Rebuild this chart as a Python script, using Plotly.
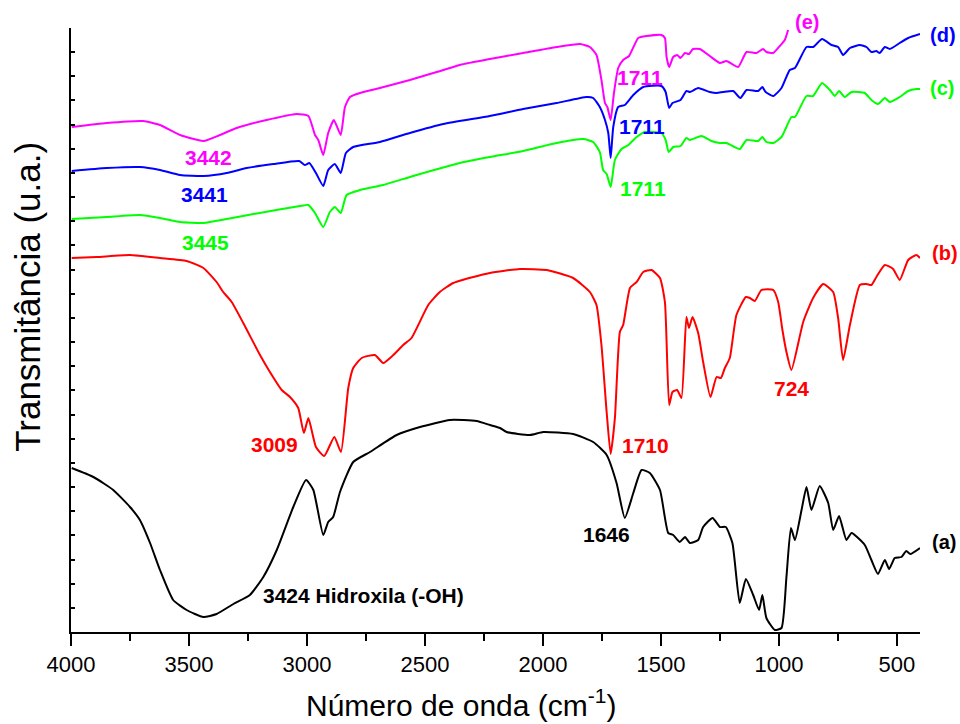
import plotly.graph_objects as go

# ---------------- data (wavenumber cm-1, transmittance a.u.) ----------------
a_wn = [3997,3905,3821,3750,3708,3665,3623,3567,3510,3439,3383,3312,3242,3185,3128,3058,3004,2973,2931,2910,2889,2860,2804,2733,2620,2521,2394,2281,2225,2182,2154,2055,1999,1872,1787,1730,1688,1653,1617,1582,1547,1504,1469,1448,1420,1398,1377,1342,1321,1281,1250,1225,1197,1166,1140,1109,1084,1070,1053,1017,989,968,949,932,904,883,862,827,791,770,745,714,692,636,608,580,551,533,509,481,460,443,402]
a_t  = [164,155,142,125,112,89,62,32,22,15,18,28,37,55,82,125,152,142,97,110,115,140,170,180,197,205,212,211,207,204,200,197,200,198,190,177,149,114,139,162,159,142,99,97,90,95,89,92,105,114,105,105,89,29,53,37,22,37,14,2,4,55,104,92,122,145,122,146,129,102,116,92,99,87,72,58,72,63,74,75,81,78,84]

b_wn = [3997,3891,3750,3623,3510,3439,3383,3355,3319,3270,3199,3157,3107,3072,3037,3013,2994,2962,2927,2884,2856,2825,2804,2768,2712,2677,2634,2592,2557,2486,2437,2380,2295,2225,2098,1984,1872,1801,1773,1752,1730,1713,1695,1674,1660,1631,1603,1575,1540,1504,1483,1465,1451,1431,1413,1392,1381,1366,1342,1321,1290,1264,1246,1229,1208,1180,1140,1123,1102,1074,1024,1003,985,968,947,897,855,812,770,749,728,699,657,629,608,587,551,516,488,452,417,402]
b_t  = [374,375,377,374,371,364,350,340,330,309,277,260,242,235,224,199,214,185,176,195,180,244,264,274,277,269,277,287,294,327,340,349,355,359,363,362,354,340,327,287,220,178,214,300,307,344,350,360,362,354,330,227,240,242,234,315,304,315,299,270,235,255,254,264,274,317,335,334,331,342,342,330,302,280,262,310,334,348,340,314,272,307,347,348,347,355,367,363,352,372,377,374]

c_wn = [3997,3849,3708,3623,3538,3439,3340,3227,3030,2994,2966,2931,2903,2882,2857,2832,2775,2677,2550,2352,2225,2084,1942,1829,1787,1759,1745,1730,1713,1695,1667,1638,1603,1568,1498,1480,1467,1448,1417,1392,1377,1328,1286,1250,1222,1166,1137,1088,1070,1053,1024,989,947,932,883,855,817,784,763,745,721,692,636,608,580,551,530,488,452,417,402]
c_t  = [413,415,417,414,410,409,413,418,426,427,419,405,420,425,419,437,442,447,456,469,475,481,489,493,490,480,462,458,445,472,483,487,495,500,499,492,480,485,486,494,492,496,491,489,489,483,492,491,495,490,489,495,515,515,536,536,549,542,536,541,535,540,539,532,528,534,530,535,541,543,543]

d_wn = [3997,3849,3708,3623,3538,3439,3340,3256,3143,3033,3009,2990,2962,2931,2910,2882,2857,2835,2804,2691,2564,2422,2225,2084,1942,1815,1787,1759,1737,1723,1713,1702,1681,1653,1617,1575,1498,1480,1465,1451,1417,1392,1377,1342,1293,1264,1236,1194,1163,1137,1088,1070,1056,1024,989,954,932,883,855,817,777,749,728,699,657,629,608,587,573,551,530,488,452,402]
d_t  = [461,464,465,462,457,456,459,464,468,471,467,469,459,446,462,468,459,479,485,490,499,508,516,523,529,535,534,525,512,499,474,505,525,527,537,545,546,540,524,529,532,541,540,544,540,539,540,541,534,542,541,545,540,536,544,562,564,585,585,593,587,585,577,584,587,585,580,581,579,585,583,589,594,598]

e_wn = [3997,3849,3694,3623,3538,3439,3369,3298,3171,3044,2994,2966,2952,2931,2910,2886,2857,2839,2818,2775,2691,2564,2450,2352,2225,2084,1942,1843,1801,1773,1752,1737,1727,1713,1699,1681,1660,1635,1596,1561,1498,1483,1476,1465,1448,1431,1417,1398,1381,1364,1335,1293,1250,1222,1173,1137,1095,1067,1053,1024,996,975,961]
e_t  = [505,509,511,507,497,491,497,504,512,518,516,497,492,477,499,512,497,525,535,539,544,552,560,567,573,579,585,588,585,577,552,529,525,512,539,564,572,576,594,596,597,594,575,565,575,577,574,579,578,583,583,576,569,571,565,580,579,583,580,579,586,592,602]

series_names = ["(a)", "(b)", "(c)", "(d)", "(e)"]
series_colors = ["#000000", "#FF0000", "#00FF00", "#0000FF", "#FF00FF"]

# peak labels: (text, wavenumber, transmittance, color)
peak_text  = ["3442", "3441", "3445", "1711", "1711", "1711", "3009", "1710", "724", "1646", "3424 Hidroxila (-OH)"]
peak_wn    = [3417, 3434, 3430, 1589, 1581, 1577, 3136, 1564, 945, 1729, 2759]
peak_t     = [475, 438, 390, 555, 506, 444, 188, 187, 244, 98, 37]
peak_color = ["#FF00FF", "#0000FF", "#00FF00", "#FF00FF", "#0000FF", "#00FF00", "#FF0000", "#FF0000", "#FF0000", "#000000", "#000000"]

x_ticks = [4000, 3500, 3000, 2500, 2000, 1500, 1000, 500]

FONT = "Arial, Liberation Sans, sans-serif"

fig = go.Figure()
all_x = [a_wn, b_wn, c_wn, d_wn, e_wn]
all_y = [a_t, b_t, c_t, d_t, e_t]
for xs, ys, nm, col in zip(all_x, all_y, series_names, series_colors):
    fig.add_trace(go.Scatter(x=xs, y=ys, mode="lines", name=nm,
                             line=dict(color=col, width=2, shape="spline", smoothing=0.5),
                             showlegend=False))

for t, x, y, c in zip(peak_text, peak_wn, peak_t, peak_color):
    fig.add_annotation(x=x, y=y, xref="x", yref="y", text="<b>%s</b>" % t,
                       showarrow=False, xanchor="center", yanchor="middle",
                       font=dict(family=FONT, size=21, color=c))

# series labels (placed just outside the plot area)
lab_xref = ["paper", "paper", "paper", "paper", "x"]
lab_x    = [1.0118, 1.0118, 1.0094, 1.0094, 941]
lab_yref = ["y", "y", "y", "y", "paper"]
lab_y    = [90, 379, 544, 597, 1.0099]
for nm, col, xr, xv, yr, yv in zip(series_names, series_colors, lab_xref, lab_x, lab_yref, lab_y):
    fig.add_annotation(x=xv, y=yv, xref=xr, yref=yr, text="<b>%s</b>" % nm,
                       xanchor="left", yanchor="middle", showarrow=False,
                       font=dict(family=FONT, size=20, color=col))

# axis titles
fig.add_annotation(x=0.459, y=-0.118, xref="paper", yref="paper",
                   text="Número de onda (cm<sup>-1</sup>)", showarrow=False,
                   xanchor="center", yanchor="middle",
                   font=dict(family=FONT, size=30, color="black"))
fig.add_annotation(x=-0.0506, y=0.555, xref="paper", yref="paper",
                   text="Transmitância (u.a.)", showarrow=False, textangle=-90,
                   xanchor="center", yanchor="middle",
                   font=dict(family=FONT, size=35, color="black"))

fig.update_layout(
    width=960, height=724,
    margin=dict(l=71, r=40, t=28, b=92),
    paper_bgcolor="white", plot_bgcolor="white",
    font=dict(family=FONT, color="black"),
)
fig.update_xaxes(range=[4000, 402], tickvals=x_ticks, ticks="outside", ticklen=12,
                 tickwidth=2, tickcolor="black", showline=True, linewidth=2,
                 linecolor="black", showgrid=False, zeroline=False,
                 tickfont=dict(family=FONT, size=22, color="black"),
                 minor=dict(dtick=250, tick0=0, ticks="outside", ticklen=7,
                            tickwidth=2, tickcolor="black", showgrid=False))
fig.update_yaxes(range=[0, 604], tick0=0, dtick=24.16, ticks="inside", ticklen=4,
                 tickwidth=1.5, tickcolor="black", showline=True, linewidth=2,
                 linecolor="black", showgrid=False, zeroline=False,
                 showticklabels=False)

# remove the default page margin so the 960x724 figure fills the window exactly
fig.write_html("out.html", config={"displayModeBar": False},
               post_script="document.body.style.margin='0';document.body.style.overflow='hidden';")
